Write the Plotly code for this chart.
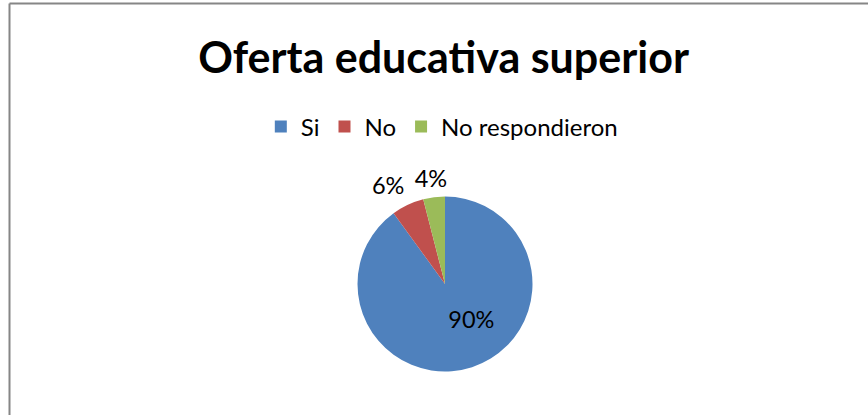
import plotly.graph_objects as go

W, H = 868, 415

labels = ["Si", "No", "No respondieron"]
values = [90, 6, 4]
colors = ["#4F81BD", "#C0504D", "#9BBB59"]
title_text = "Oferta educativa superior"

# pie geometry (pixels)
cx, cy, r = 445, 284, 87.5
FONT = "Lato"
LBL = 23.5


def dom(rad, ox=0.0):
    c = cx + ox
    return dict(x=[(c - rad) / W, (c + rad) / W], y=[1 - (cy + rad) / H, 1 - (cy - rad) / H])


# visible pie
fig = go.Figure(go.Pie(
    labels=labels,
    values=values,
    marker=dict(colors=colors, line=dict(width=0)),
    sort=False,
    direction="clockwise",
    rotation=0,
    textinfo="none",
    domain=dom(r),
    automargin=False,
    hoverinfo="label+percent",
))


# transparent overlays that only carry the percentage labels (placement tuning)
def label_layer(idx, pos, rot, rad, ox=0.0):
    tmpl = ["" for _ in labels]
    tmpl[idx] = "%{percent:.0%}"
    tpos = ["none" for _ in labels]
    tpos[idx] = pos
    return go.Pie(
        labels=labels,
        values=values,
        marker=dict(colors=["rgba(0,0,0,0)"] * len(labels), line=dict(width=0)),
        sort=False,
        direction="clockwise",
        rotation=rot,
        texttemplate=tmpl,
        textposition=tpos,
        insidetextorientation="horizontal",
        textfont=dict(family=FONT, size=LBL, color="#000000"),
        insidetextfont=dict(family=FONT, size=LBL, color="#000000"),
        outsidetextfont=dict(family=FONT, size=LBL, color="#000000"),
        domain=dom(rad, ox),
        automargin=False,
        showlegend=False,
        hoverinfo="skip",
    )


fig.add_trace(label_layer(0, "inside", -19, r))
fig.add_trace(label_layer(1, "outside", 4, 93))
fig.add_trace(label_layer(2, "outside", 6.7, 92, 10))

fig.update_layout(
    width=W, height=H,
    margin=dict(l=0, r=0, t=0, b=0),
    paper_bgcolor="white",
    plot_bgcolor="white",
    title=dict(text="<b>" + title_text + "</b>", x=0.511, xanchor="center",
               y=1 - 58 / H, yanchor="middle",
               font=dict(family=FONT, size=43, color="#000000")),
    showlegend=True,
    legend=dict(orientation="h", x=0.509, xanchor="center", y=1 - 127 / H, yanchor="middle",
                font=dict(family=FONT, size=24, color="#000000"),
                itemsizing="constant", traceorder="normal"),
    shapes=[
        dict(type="line", xref="paper", yref="paper", x0=9.5 / W, x1=9.5 / W, y0=0, y1=1 - 3.5 / H,
             line=dict(color="#868686", width=2)),
        dict(type="line", xref="paper", yref="paper", x0=9.5 / W, x1=1, y0=1 - 3.5 / H, y1=1 - 3.5 / H,
             line=dict(color="#868686", width=2)),
    ],
)

fig.write_html("out.html", config={"displayModeBar": False},
               post_script="document.body.style.margin='0';")
